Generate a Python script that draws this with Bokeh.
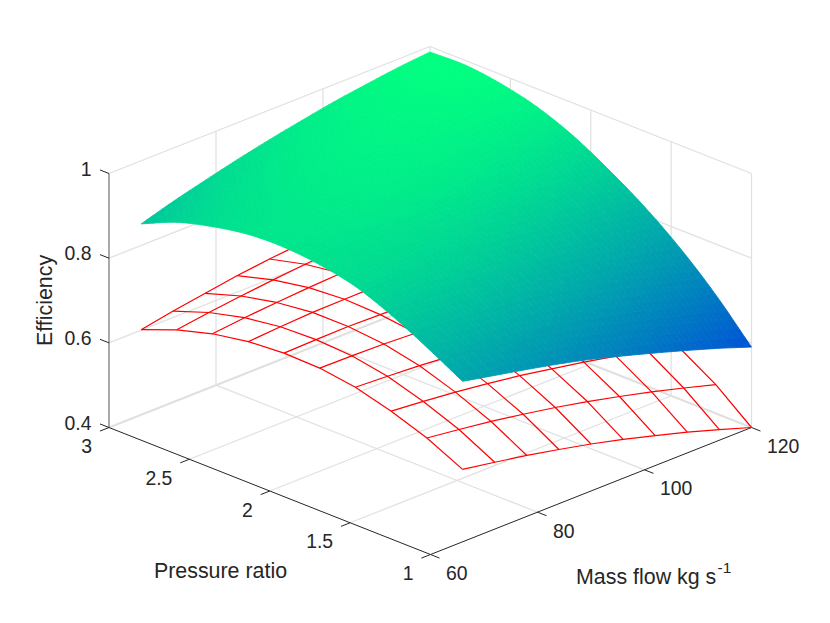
from bokeh.core.properties import value
from bokeh.embed import file_html
from bokeh.models import ColumnDataSource, Range1d
from bokeh.plotting import figure
from bokeh.resources import INLINE
from bokeh.transform import linear_cmap
import numpy as np

m_ticks = [60, 80, 100, 120]
p_ticks = [1, 1.5, 2, 2.5, 3]
z_ticks = [0.4, 0.6, 0.8, 1]
z_labels = ["0.4", "0.6", "0.8", "1"]

mass_flow = [66, 72, 78, 84, 90, 96, 102, 108, 114, 120]
pressure = [1.0, 1.222, 1.444, 1.667, 1.889, 2.111, 2.333, 2.556, 2.778, 3.0]

# rows are pressure, columns are mass flow
lower_eff = [
    [.571, .558, .544, .528, .511, .492, .471, .449, .425, .400],
    [.612, .602, .591, .578, .564, .548, .530, .511, .490, .468],
    [.642, .635, .627, .617, .606, .592, .578, .562, .543, .520],
    [.665, .661, .656, .649, .641, .630, .618, .605, .590, .574],
    [.677, .676, .674, .670, .664, .657, .648, .638, .626, .613],
    [.679, .681, .682, .680, .678, .674, .668, .661, .652, .641],
    [.673, .678, .682, .683, .684, .683, .680, .675, .669, .662],
    [.658, .666, .672, .677, .681, .683, .682, .681, .678, .674],
    [.634, .645, .654, .662, .669, .674, .676, .678, .678, .676],
    [.601, .615, .627, .639, .648, .655, .661, .666, .668, .670],
]

upper_eff = [
    [.779, .763, .747, .730, .711, .689, .666, .642, .617, .590],
    [.826, .815, .804, .791, .777, .760, .742, .722, .703, .680],
    [.869, .862, .855, .846, .835, .822, .808, .793, .775, .757],
    [.903, .899, .894, .889, .882, .871, .860, .848, .836, .822],
    [.921, .920, .920, .919, .917, .911, .904, .896, .887, .876],
    [.929, .933, .938, .941, .943, .942, .939, .935, .930, .923],
    [.926, .934, .942, .949, .954, .957, .959, .960, .959, .957],
    [.911, .923, .935, .947, .956, .963, .968, .972, .976, .978],
    [.888, .904, .920, .935, .948, .958, .968, .976, .984, .989],
    [.851, .874, .894, .913, .930, .945, .959, .970, .980, .987],
]

winter = ["#00%02x%02x" % (g, 255 - g // 2) for g in range(256)]
GRID = "#e0e0e0"
DARK = "#262626"
FONT = value("Liberation Sans")
STEPS = 6


def project(m, p, z):
    x = 430 + (m - 60) * 5.35 - (p - 1) * 160.75
    y = 554 - (m - 60) * 2.1167 - (p - 1) * 63.5 - (z - 0.4) * 423.3
    return x, y


def segment(fig, a, b, color, width=1.2):
    xa, ya = project(*a)
    xb, yb = project(*b)
    fig.line([xa, xb], [ya, yb], line_color=color, line_width=width)


def smooth(v, steps):
    # catmull-rom between table values, for the interpolated shading
    pts = np.concatenate([[2 * v[0] - v[1]], v, [2 * v[-1] - v[-2]]])
    out = []
    for k in range(len(v) - 1):
        a, b, c, d = pts[k:k + 4]
        for t in np.arange(steps) / steps:
            out.append(.5 * (2 * b + (c - a) * t + (2 * a - 5 * b + 4 * c - d) * t ** 2
                             + (3 * b - a - 3 * c + d) * t ** 3))
    out.append(v[-1])
    return np.array(out)


p = figure(width=814, height=607, output_backend="svg", toolbar_location=None,
           x_range=Range1d(0, 814), y_range=Range1d(607, 0), min_border=0)
p.axis.visible = False
p.grid.visible = False
p.outline_line_color = None

# walls and floor
for m in m_ticks[1:]:
    segment(p, (m, 1, .4), (m, 3, .4), GRID)
    segment(p, (m, 3, .4), (m, 3, 1), GRID)
for pr in p_ticks[1:]:
    segment(p, (60, pr, .4), (120, pr, .4), GRID)
    if pr < 3:
        segment(p, (120, pr, .4), (120, pr, 1), GRID)
segment(p, (120, 1, .4), (120, 1, 1), GRID)
for z in z_ticks:
    w = 2.0 if z == .4 else 1.2
    segment(p, (60, 3, z), (120, 3, z), GRID, w)
    segment(p, (120, 3, z), (120, 1, z), GRID, w)

# axes
segment(p, (60, 1, .4), (120, 1, .4), DARK, 1.0)
segment(p, (60, 1, .4), (60, 3, .4), DARK, 1.0)
segment(p, (60, 3, .4), (60, 3, 1), "#555555", 1.0)
for m in m_ticks:
    segment(p, (m, 1, .4), (m, 0.944, .4), DARK, 1.0)
for pr in p_ticks:
    segment(p, (60, pr, .4), (58.3, pr, .4), DARK, 1.0)
for z in z_ticks:
    segment(p, (60, 3, z), (60, 3.056, z), DARK, 1.0)

tx, ty, tt, ta = [], [], [], []
for m in m_ticks:
    x, y = project(m, 1, .4)
    tx.append(x + 15.5); ty.append(y + 18.5); tt.append(str(m)); ta.append("left")
for pr in p_ticks:
    x, y = project(60, pr, .4)
    tx.append(x - 17); ty.append(y + 18.5); tt.append("%g" % pr); ta.append("right")
for z, lab in zip(z_ticks, z_labels):
    x, y = project(60, 3, z)
    tx.append(x - 17.5); ty.append(y - 5); tt.append(lab); ta.append("right")
p.text(tx, ty, text=tt, text_align=ta, text_baseline="middle", text_font=FONT,
       text_font_size="19.4px", text_color=DARK)

p.text([220], [570], text=["Pressure ratio"], text_align="center", text_baseline="middle",
       text_font=FONT, text_font_size="21.4px", text_color=DARK)
p.text([575.5], [576], text=["Mass flow kg s"], text_align="left", text_baseline="middle",
       text_font=FONT, text_font_size="21.4px", text_color=DARK)
p.text([717], [567], text=["-1"], text_align="left", text_baseline="middle",
       text_font=FONT, text_font_size="15.5px", text_color=DARK)
p.text([44], [300], text=["Efficiency"], angle=np.pi / 2, text_align="center",
       text_baseline="middle", text_font=FONT, text_font_size="21.4px", text_color=DARK)

# lower surface, wireframe only
lower = np.array(lower_eff)
xs, ys = [], []
for j, pr in enumerate(pressure):
    x, y = project(np.array(mass_flow), pr, lower[j])
    xs.append(x.tolist()); ys.append(y.tolist())
for i, m in enumerate(mass_flow):
    x, y = project(m, np.array(pressure), lower[:, i])
    xs.append(x.tolist()); ys.append(y.tolist())
p.multi_line(xs, ys, line_color="#ff0000", line_width=1.2)

# upper surface, shaded between the table values
upper = np.array(upper_eff)
fine = np.array([smooth(row, STEPS) for row in upper])
fine = np.array([smooth(col, STEPS) for col in fine.T]).T
fine_m = np.interp(np.arange(fine.shape[1]) / STEPS, np.arange(len(mass_flow)), mass_flow)
fine_p = np.interp(np.arange(fine.shape[0]) / STEPS, np.arange(len(pressure)), pressure)

# back to front
qx, qy, qz = [], [], []
for j in range(fine.shape[0] - 2, -1, -1):
    for i in range(fine.shape[1] - 2, -1, -1):
        idx = [(j, i), (j, i + 1), (j + 1, i + 1), (j + 1, i)]
        pts = [project(fine_m[c], fine_p[r], fine[r, c]) for r, c in idx]
        qx.append([pt[0] for pt in pts])
        qy.append([pt[1] for pt in pts])
        qz.append(sum(fine[r, c] for r, c in idx) / 4)

src = ColumnDataSource(dict(xs=qx, ys=qy, eff=qz))
cmap = linear_cmap("eff", winter, lower.min(), upper.max())
p.patches("xs", "ys", source=src, fill_color=cmap, line_color=cmap, line_width=0.8)

open("out.html", "w").write(file_html(p, INLINE))
